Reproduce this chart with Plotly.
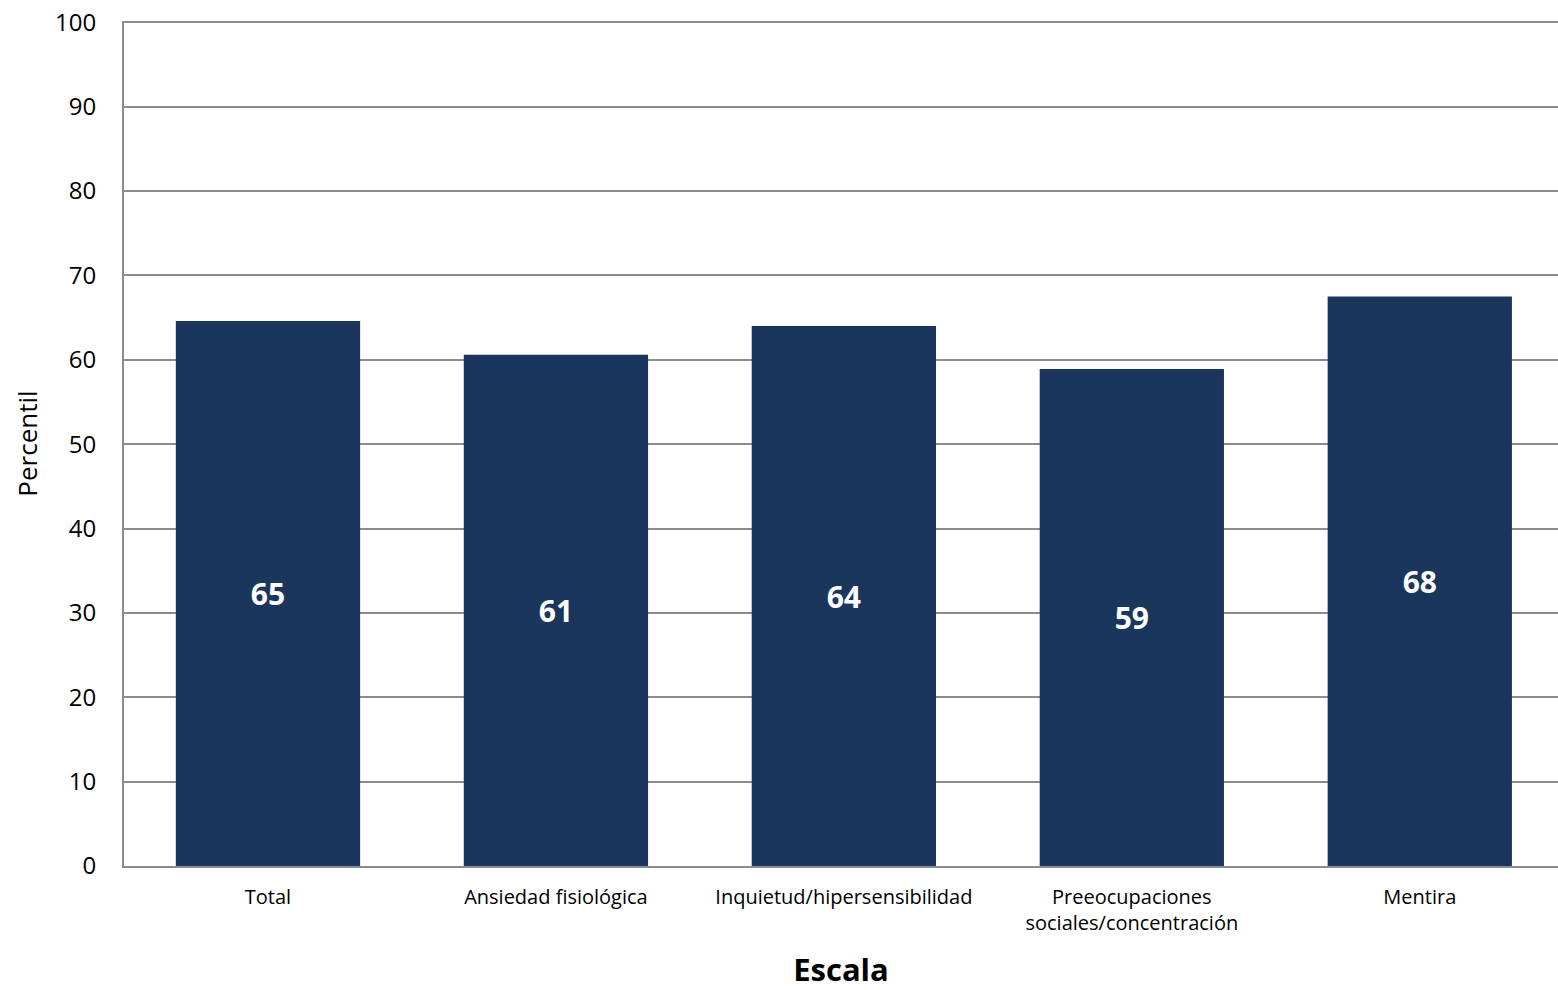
import plotly.graph_objects as go

categories = ["Total", "Ansiedad fisiológica", "Inquietud/hipersensibilidad",
              "Preeocupaciones<br>sociales/concentración", "Mentira"]
values = [64.6, 60.6, 64.0, 58.9, 67.5]
labels = ["65", "61", "64", "59", "68"]
y_ticks = [0, 10, 20, 30, 40, 50, 60, 70, 80, 90, 100]

FONT = "Open Sans"

fig = go.Figure(go.Bar(
    x=categories, y=values, text=labels,
    textposition="inside", insidetextanchor="middle",
    textfont=dict(family=FONT, size=30, color="white", weight="bold"),
    marker=dict(color="#1b365d", line=dict(width=0)),
    cliponaxis=False,
))

fig.update_layout(
    width=1558, height=990,
    margin=dict(l=124, r=0, t=21, b=124),
    plot_bgcolor="white", paper_bgcolor="white",
    bargap=0.36,
    showlegend=False,
    font=dict(family=FONT, color="black"),
)
fig.update_xaxes(
    range=[-0.5, 4.48],
    showline=True, linecolor="#8c8c8c", linewidth=2,
    showgrid=False, ticks="", ticklabelstandoff=12,
    tickfont=dict(family=FONT, size=20),
    title=dict(text="Escala", font=dict(family=FONT, size=31, weight="bold"), standoff=30),
)
fig.update_yaxes(
    range=[0, 100.15], tickvals=y_ticks,
    showline=True, linecolor="#8c8c8c", linewidth=2,
    showgrid=True, gridcolor="#8c8c8c", gridwidth=1.5,
    ticks="", ticklabelstandoff=21,
    tickfont=dict(family=FONT, size=24),
    title=dict(text="Percentil", font=dict(family=FONT, size=26), standoff=10),
    zeroline=False,
)

fig.write_html("out.html")
